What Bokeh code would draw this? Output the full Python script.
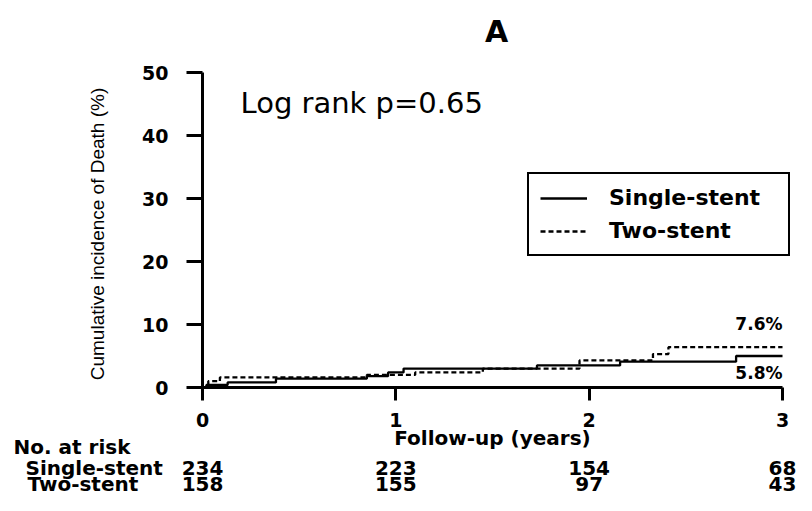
import math
from bokeh.plotting import figure
from bokeh.models import (Range1d, FixedTicker, Label, LabelSet, ColumnDataSource,
                          Legend, LegendItem)
from bokeh.core.properties import value
from bokeh.embed import file_html
from bokeh.resources import INLINE

# ---- data ----
single_t = [0, 0.02, 0.13, 0.38, 0.85, 0.96, 1.04, 1.73, 2.16, 2.76, 3.0]
single_y = [0, 0.4, 0.8, 1.4, 1.8, 2.4, 3.0, 3.5, 4.1, 5.0, 5.0]
two_t = [0, 0.03, 0.09, 0.85, 1.10, 1.45, 1.95, 2.33, 2.41, 3.0]
two_y = [0, 1.0, 1.6, 2.0, 2.4, 3.0, 4.3, 5.3, 6.4, 6.4]

risk_times = [0, 1, 2, 3]
risk_single = [234, 223, 154, 68]
risk_two = [158, 155, 97, 43]

x_ticks = [0, 1, 2, 3]
y_ticks = [0, 10, 20, 30, 40, 50]
x_bounds = (0, 3)
y_bounds = (0, 50)
final_single_label = "5.8%"
final_two_label = "7.6%"
series_names = ["Single-stent", "Two-stent"]
table_title = "No. at risk"

# ---- layout (pixels of the canvas) ----
W, H = 796, 495
AX_LEFT, AX_RIGHT = 202, 782     # canvas x of t=0 and t=3
AX_TOP, AX_BOTTOM = 72, 387      # canvas y of 50 % and 0 %
ROW_Y = [453, 474, 490]          # canvas baselines of the at-risk table rows

def sy(py):                      # canvas y (from top) -> screen y (from bottom)
    return H - py

xscale = (AX_RIGHT - AX_LEFT) / (x_bounds[1] - x_bounds[0])
yscale = (AX_BOTTOM - AX_TOP) / (y_bounds[1] - y_bounds[0])
x_start = x_bounds[0] - AX_LEFT / xscale
x_end = x_start + W / xscale
y_end = y_bounds[1] + AX_TOP / yscale
y_start = y_end - H / yscale

BOLD = "DejaVu Sans"

p = figure(width=W, height=H, x_range=Range1d(x_start, x_end),
           y_range=Range1d(y_start, y_end), output_backend="svg",
           toolbar_location=None, min_border=0)

p.xgrid.visible = False
p.ygrid.visible = False
p.outline_line_color = None

for ax in (p.xaxis[0], p.yaxis[0]):
    ax.fixed_location = 0
    ax.axis_line_width = 3
    ax.axis_line_color = "black"
    ax.major_tick_line_width = 3
    ax.major_tick_line_color = "black"
    ax.major_tick_in = 0
    ax.minor_tick_line_color = None
    ax.major_label_text_font = BOLD
    ax.major_label_text_font_style = "bold"
    ax.major_label_text_font_size = "19px"
    ax.major_label_text_color = "black"

p.xaxis.bounds = x_bounds
p.yaxis.bounds = y_bounds
p.xaxis.ticker = FixedTicker(ticks=x_ticks)
p.yaxis.ticker = FixedTicker(ticks=y_ticks)
p.xaxis.major_tick_out = 13
p.yaxis.major_tick_out = 16
p.xaxis.major_label_standoff = 12
p.yaxis.major_label_standoff = 18

# curves
r_s = p.step(single_t, single_y, mode="after", line_color="black", line_width=2.3)
r_t = p.step(two_t, two_y, mode="after", line_color="black", line_width=2.3,
             line_dash="5 3")

legend = Legend(items=[LegendItem(label=series_names[0], renderers=[r_s]),
                       LegendItem(label=series_names[1], renderers=[r_t])],
                location=(527, sy(256)), border_line_color="black",
                border_line_width=2, border_line_alpha=1,
                label_text_font=BOLD, label_text_color="black",
                label_text_font_style="bold", label_text_font_size="22px",
                padding=11, spacing=8, glyph_width=47, glyph_height=22,
                label_height=22, label_width=168, label_standoff=22, margin=0,
                background_fill_alpha=1)
p.add_layout(legend)

txt = dict(text_color="black", x_units="screen", y_units="screen",
           text_baseline="bottom")
bold = dict(text_font=BOLD, text_font_style="bold")

# title and axis titles (y gives the bottom of the text box)
p.add_layout(Label(x=(AX_LEFT + AX_RIGHT) / 2 + 4, y=sy(48), text="A",
                   text_align="center", text_font_size="30px", **bold, **txt))
p.add_layout(Label(x=(AX_LEFT + AX_RIGHT) / 2, y=sy(449), text="Follow-up (years)",
                   text_align="center", text_font_size="20px", **bold, **txt))
p.add_layout(Label(x=97, y=sy((AX_TOP + AX_BOTTOM) / 2 + 4),
                   text="Cumulative incidence of Death (%)", angle=math.pi / 2,
                   text_align="center", text_baseline="middle",
                   text_font="Liberation Sans", text_font_size="19px",
                   text_color="black", x_units="screen", y_units="screen"))

p.add_layout(Label(x=240, y=sy(119), text="Log rank p=0.65", text_font="DejaVu Sans",
                   text_font_size="29px", **txt))

p.add_layout(Label(x=two_t[-1], y=two_y[-1], y_offset=13, text=final_two_label,
                   text_align="right", text_baseline="bottom",
                   text_font_size="17px", text_color="black", **bold))
p.add_layout(Label(x=single_t[-1], y=single_y[-1], y_offset=-7,
                   text=final_single_label, text_align="right", text_baseline="top",
                   text_font_size="17px", text_color="black", **bold))

# number-at-risk table
row_src = ColumnDataSource(dict(x=[13, 25, 27],
                                y=[sy(v) for v in ROW_Y],
                                text=[table_title] + series_names))
p.add_layout(LabelSet(x="x", y="y", text="text", source=row_src,
                      x_units="screen", y_units="screen",
                      text_font=value(BOLD), text_font_style="bold",
                      text_font_size="20px", text_color="black",
                      text_baseline="alphabetic"))

num_kw = dict(text_font=value(BOLD), text_font_style="bold",
              text_font_size="20px", text_color="black", text_align="center",
              text_baseline="alphabetic", y_units="screen")
src_s = ColumnDataSource(dict(t=risk_times, n=[str(v) for v in risk_single]))
src_t = ColumnDataSource(dict(t=risk_times, n=[str(v) for v in risk_two]))
p.add_layout(LabelSet(x="t", y=sy(ROW_Y[1]), text="n", source=src_s, **num_kw))
p.add_layout(LabelSet(x="t", y=sy(ROW_Y[2]), text="n", source=src_t, **num_kw))

open("out.html", "w").write(file_html(p, INLINE))
